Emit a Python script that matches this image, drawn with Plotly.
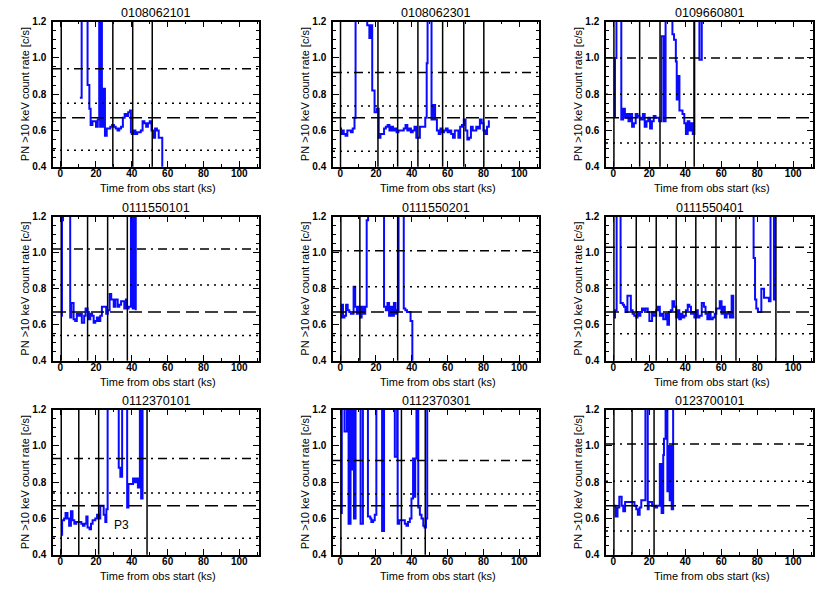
import plotly.graph_objects as go

# ---------------- data ----------------
obsids = ["0108062101", "0108062301", "0109660801",
          "0111550101", "0111550201", "0111550401",
          "0112370101", "0112370301", "0123700101"]

t1 = [11, 12, 15.3, 16.3, 17, 18, 19, 20, 21, 21.8, 22.3, 22.8, 23.3, 24, 25, 26, 27, 28, 29, 30,
      31, 32, 33, 34, 35, 36, 37, 38, 39, 39.5, 40, 41, 42, 43, 44, 45, 46, 47, 48, 49,
      50, 51, 52, 53, 54, 55, 57, 57.5]
r1 = [0.78, 1.5, 0.85, 0.72, 0.63, 0.65, 0.65, 0.62, 0.66, 1.5, 0.62, 1.5, 0.62, 0.83, 0.57, 0.61, 0.61, 0.62, 0.63, 0.62,
      0.61, 0.60, 0.61, 0.62, 0.67, 0.69, 0.68, 0.70, 0.71, 0.59, 0.58, 0.60, 0.58, 0.59, 0.59, 0.60, 0.65, 0.64, 0.62, 0.64,
      0.65, 0.60, 0.56, 0.61, 0.60, 0.56, 0.35, 0.35]

t2 = [0, 0.5, 1, 2, 3, 4, 5, 6, 7, 8, 8.6, 15.1, 16.3, 17.2, 17.9, 19.2, 20.5, 21.5, 22.5, 23.5,
      24.5, 25.5, 26.5, 27.5, 28.5, 29.5, 30.5, 31.5, 32.5, 33.5, 34.5, 35.5, 36.5, 37.5, 38.5, 39.5, 40.5, 41.5, 42.5, 43.5,
      44.5, 45.5, 46.5, 47.5, 48.3, 48.8, 51, 52, 53, 54, 55, 56, 57, 58, 59, 60, 61, 62, 63, 64,
      65, 66, 67, 68, 69, 70, 71, 72, 73, 74, 75, 76, 77, 78, 79, 80, 81, 82, 83, 83.5]
r2 = [0.61, 0.58, 0.60, 0.58, 0.57, 0.60, 0.60, 0.59, 0.61, 0.67, 1.5, 1.18, 1.11, 1.18, 0.82, 0.70, 0.72, 0.56, 0.58, 0.58,
      0.61, 0.62, 0.63, 0.60, 0.62, 0.60, 0.61, 0.59, 0.60, 0.60, 0.60, 0.61, 0.63, 0.60, 0.61, 0.59, 0.60, 0.62, 0.56, 0.56,
      0.62, 0.62, 0.62, 0.67, 0.97, 1.5, 0.66, 0.74, 0.66, 0.60, 0.58, 0.61, 0.59, 0.60, 0.61, 0.59, 0.60, 0.58, 0.56, 0.60,
      0.60, 0.56, 0.62, 0.63, 0.66, 0.60, 0.55, 0.56, 0.62, 0.60, 0.60, 0.62, 0.61, 0.66, 0.64, 0.60, 0.58, 0.62, 0.65, 0.65]

t3 = [0.5, 1, 1.8, 4.5, 5.5, 6.5, 7.5, 8.5, 9.5, 10.5, 11.5, 12.5, 13.5, 14.5, 15.5, 16.5, 17.5, 18.5, 19.5, 20.5,
      21.5, 22.5, 23.5, 24.5, 25.5, 26.9, 28.2, 29.1, 32.9, 33.8, 34.8, 35.3, 36.3, 36.8, 38.5, 39.5, 40.4, 41.4, 42.3, 43.2,
      44.2, 45.1, 47.9, 49.2, 49.6]
r3 = [0.68, 1.0, 1.5, 0.66, 0.72, 0.67, 0.69, 0.65, 0.69, 0.62, 0.64, 0.69, 0.68, 0.67, 0.66, 0.69, 0.62, 0.65, 0.67, 0.61,
      0.65, 0.68, 0.67, 0.67, 0.65, 1.12, 0.65, 1.5, 1.13, 1.10, 0.98, 0.77, 0.90, 0.71, 0.69, 0.64, 0.58, 0.65, 0.60, 0.64,
      0.58, 1.5, 0.99, 1.5, 1.5]

t4 = [0.6, 1.0, 1.6, 5.6, 6.2, 7.5, 8.4, 9.3, 10.3, 11.2, 12.1, 13.4, 14.2, 15.3, 16.0, 16.8, 17.8, 18.7, 19.6, 20.5,
      21.5, 22.4, 23.3, 24.8, 25.7, 26.6, 27.6, 28.5, 29.9, 30.8, 32.1, 33.0, 34.0, 34.9, 35.8, 36.7, 37.3, 38.2, 39.5, 40.5,
      41.4, 42.2]
r4 = [0.65, 1.18, 1.5, 0.64, 0.72, 0.63, 0.62, 0.66, 0.65, 0.66, 0.61, 0.65, 0.69, 0.67, 0.63, 0.66, 0.65, 0.61, 0.62, 0.64,
      0.62, 0.65, 0.70, 0.70, 0.66, 0.68, 0.77, 0.74, 0.70, 0.74, 0.70, 0.71, 0.73, 0.73, 0.69, 0.74, 0.69, 0.70, 1.5, 0.69,
      1.5, 0.68]

t5 = [0.4, 1.0, 1.6, 2.4, 3.3, 4.2, 5.1, 6.0, 7.5, 8.4, 9.3, 10.2, 11.1, 12.0, 13.0, 14.0, 14.8, 15.6, 24.5, 25.5,
      26.4, 27.3, 28.2, 29.1, 30.0, 30.9, 31.8, 32.6, 35.5, 36.4, 37.3, 38.3, 39.3, 40.3]
r5 = [0.64, 0.71, 0.64, 0.65, 0.71, 0.68, 0.67, 0.66, 0.81, 0.70, 0.66, 0.70, 0.64, 0.70, 0.66, 0.70, 1.18, 1.5, 0.70, 0.68,
      0.72, 0.65, 0.70, 0.65, 0.72, 0.66, 0.68, 1.5, 0.69, 0.68, 0.67, 0.67, 0.62, 0.35]

t6 = [0.4, 1.0, 1.9, 4.1, 5.3, 6.0, 6.8, 7.9, 9.8, 10.8, 11.7, 12.8, 13.5, 14.3, 15.1, 16.0, 17.0, 17.9, 19.2, 20.1,
      21.6, 22.6, 23.9, 24.8, 25.9, 26.9, 27.8, 29.1, 30.1, 31.0, 32.0, 32.9, 33.8, 35.0, 35.7, 36.7, 37.6, 38.5, 39.5, 40.4,
      41.4, 42.3, 43.2, 44.2, 45.1, 46.1, 47.0, 47.9, 49.2, 50.4, 51.3, 52.3, 53.2, 54.1, 55.3, 56.4, 57.3, 59.2, 60.2, 61.1,
      62.0, 63.0, 64.0, 64.8, 65.8, 66.7, 67.3, None,
      77.5, 78.0, 78.8, 79.5, 80.4, 82.3, 83.8, 86.5, 87.4, 89.3, 89.8, 90.3]
r6 = [0.64, 0.68, 1.5, 0.72, 0.71, 0.70, 0.67, 0.76, 0.68, 0.66, 0.65, 0.64, 0.67, 0.65, 0.67, 0.69, 0.68, 0.69, 0.67, 0.62,
      0.67, 0.65, 0.68, 0.70, 0.65, 0.66, 0.63, 0.66, 0.60, 0.67, 0.68, 0.73, 0.70, 0.64, 0.68, 0.63, 0.66, 0.64, 0.65, 0.68,
      0.71, 0.70, 0.66, 0.67, 0.64, 0.68, 0.64, 0.65, 0.72, 0.70, 0.66, 0.63, 0.67, 0.63, 0.64, 0.66, 0.69, 0.73, 0.66, 0.70,
      0.64, 0.66, 0.67, 0.64, 0.76, 0.64, 0.64, None,
      1.5, 0.97, 0.74, 0.69, 0.67, 0.80, 0.75, 0.73, 1.5, 0.74, 1.5, 1.5]

t7 = [0.6, 1.1, 2.2, 3.0, 4.1, 5.0, 6.0, 6.9, 7.9, 9.0, 10.5, 11.8, 12.7, 13.6, 14.6, 15.3, 16.4, 17.2, 18.1, 19.6,
      20.6, 21.5, 22.4, 24.3, 25.2, 25.8, 26.5, 32.7, 33.6, 34.6, 37.4, 38.1, 39.6, 40.7, 41.7, 42.6, 43.4, 44.5, 45.2, 46.0,
      46.5]
r7 = [0.51, 0.59, 0.60, 0.63, 0.60, 0.56, 0.64, 0.59, 0.57, 0.58, 0.58, 0.57, 0.56, 0.57, 0.61, 0.55, 0.54, 0.57, 0.59, 0.60,
      0.62, 0.60, 0.67, 0.62, 0.58, 0.65, 1.5, 0.88, 0.83, 1.5, 0.66, 0.79, 0.79, 0.82, 0.80, 0.82, 0.77, 1.5, 0.71, 1.5,
      1.5]

t8 = [0.4, 0.9, 2.4, 3.7, 4.7, 5.8, 6.5, 7.3, 7.7, 8.6, 11.4, 12.7, 15.5, 16.8, 17.4, 18.4, 19.3, 20.2, 23.4, 24.5,
      30.5, 31.8, 32.1, 33.0, 34.2, 36.1, 37.0, 37.9, 38.9, 39.8, 40.7, 41.3, 41.9, 42.6, 43.6, 44.5, 45.4, 46.4, 47.1, 47.9,
      48.6, 49.0]
r8 = [0.63, 1.5, 1.08, 1.5, 0.57, 1.5, 0.87, 1.5, 0.60, 1.5, 0.57, 1.5, 0.61, 0.60, 0.58, 0.59, 0.62, 1.5, 0.53, 1.5,
      0.94, 1.5, 0.57, 0.59, 0.59, 0.57, 0.56, 0.58, 0.60, 0.71, 0.93, 0.72, 0.93, 1.5, 0.66, 0.62, 0.60, 0.56, 0.55, 0.60,
      1.5, 1.5]

t9 = [0.4, 1.3, 2.4, 3.4, 4.7, 5.6, 6.6, 7.9, 9.4, 10.9, 11.8, 12.8, 13.7, 14.7, 15.6, 16.9, 17.9, 19.2, 19.7, 20.7,
      21.6, 22.6, 23.5, 24.4, 25.9, 26.9, 27.8, 28.2, 29.1, 30.1, 30.6, 31.4, 31.9, 32.5, 33.3]
r9 = [0.67, 0.61, 0.66, 0.72, 0.67, 0.64, 0.69, 0.69, 0.69, 0.69, 0.67, 0.65, 0.62, 0.66, 0.70, 0.70, 1.5, 0.65, 0.69, 0.69,
      0.67, 0.67, 0.66, 0.67, 0.90, 0.63, 0.95, 1.04, 1.5, 0.75, 1.00, 0.70, 1.00, 0.65, 1.5]

times = [t1, t2, t3, t4, t5, t6, t7, t8, t9]
rates = [r1, r2, r3, r4, r5, r6, r7, r8, r9]

# vertical markers (ks)
v1 = [0.6, 29.4, 40.5, 51.4]
v2 = [0.2, 21.1, 32.1, 43.4, 57.2, 69.0, 80.2]
v3 = [0.4, 14.7, 26.0, 45.0]
v4 = [0.6, 15.3, 26.5, 37.5]
v5 = [0.4, 11.0, 32.1]
v6 = [0.4, 12.8, 23.9, 35.0, 45.9, 57.1, 68.2, 90.4]
v7 = [0.6, 10.4, 21.5, 48.5]
v8 = [0.4, 34.2, 47.5]
v9 = [0.4, 10.5, 22.7]
vlines = [v1, v2, v3, v4, v5, v6, v7, v8, v9]

# horizontal reference levels (c/s)
dashdot_lvl = [0.94, 0.92, 1.00, 1.02, 1.01, 1.03, 0.93, 0.92, 1.01]
dotted_hi = [0.75, 0.735, 0.80, 0.82, 0.81, 0.82, 0.74, 0.735, 0.805]
dashed_lvl = [0.67, 0.67, 0.67, 0.67, 0.67, 0.67, 0.67, 0.67, 0.67]
dotted_lo = [0.49, 0.485, 0.53, 0.54, 0.54, 0.55, 0.49, 0.49, 0.53]

x_ticks = [0, 20, 40, 60, 80, 100]
y_ticks = [0.4, 0.6, 0.8, 1.0, 1.2]

# ---------------- layout ----------------
W, H = 830, 593
col_px = [(53, 259), (333, 539), (606, 813)]
row_px = [(16, 164), (215, 362), (412, 560)]
FONT = "Liberation Sans, Arial, sans-serif"

fig = go.Figure()
annotations = []
shapes = []

for i in range(9):
    r, c = divmod(i, 3)
    n = "" if i == 0 else str(i + 1)
    x0p, x1p = col_px[c]
    y0p, y1p = row_px[r]
    xd = [x0p / W, x1p / W]
    yd = [1 - y1p / H, 1 - y0p / H]
    common = dict(showline=True, linecolor="black", linewidth=1.5, mirror="allticks",
                  ticks="inside", ticklen=6, tickwidth=1, tickcolor="black",
                  showgrid=False, zeroline=False,
                  tickfont=dict(family=FONT, size=10, color="black", weight="bold"))
    fig.update_layout(**{
        f"xaxis{n}": dict(domain=xd, anchor=f"y{n}", range=[-4, 111], tickvals=x_ticks,
                          ticklabelstandoff=-3,
                          minor=dict(dtick=10, tick0=0, ticklen=3, ticks="inside", tickcolor="black"),
                          **common),
        f"yaxis{n}": dict(domain=yd, anchor=f"x{n}", range=[0.4, 1.2], tickvals=y_ticks,
                          tickformat=".1f", ticklabelstandoff=3,
                          minor=dict(dtick=0.05, tick0=0.4, ticklen=3, ticks="inside", tickcolor="black"),
                          **common),
    })
    fig.add_trace(go.Scatter(x=times[i], y=rates[i], mode="lines",
                             line=dict(shape="hv", color="#0a0aff", width=2),
                             connectgaps=False, showlegend=False, hoverinfo="skip",
                             xaxis=f"x{n}", yaxis=f"y{n}"))
    # horizontal levels
    for lvl, dash in [(dashdot_lvl[i], "9px,5px,2px,5px"), (dotted_hi[i], "2px,5px"),
                      (dashed_lvl[i], "13px,6px"), (dotted_lo[i], "2px,5px")]:
        shapes.append(dict(type="line", xref=f"x{n} domain", yref=f"y{n}", x0=0, x1=1, y0=lvl, y1=lvl,
                           line=dict(color="black", width=1.5, dash=dash)))
    for v in vlines[i]:
        shapes.append(dict(type="line", xref=f"x{n}", yref=f"y{n} domain", x0=v, x1=v, y0=0, y1=1,
                           line=dict(color="black", width=1.5)))
    cx = (x0p + x1p) / 2
    # title
    annotations.append(dict(text=obsids[i], x=cx / W, y=1 - (y0p - 9) / H, xref="paper", yref="paper",
                            showarrow=False, xanchor="center", yanchor="middle",
                            font=dict(family=FONT, size=12.5, color="black")))
    # x title
    annotations.append(dict(text="Time from obs start (ks)", x=(cx + 2) / W, y=1 - (y1p + 22) / H,
                            xref="paper", yref="paper", showarrow=False, xanchor="center", yanchor="middle",
                            font=dict(family=FONT, size=11, color="black")))
    # y title
    annotations.append(dict(text="PN >10 keV count rate [c/s]", x=(x0p - 28) / W, y=1 - ((y0p + y1p) / 2) / H,
                            xref="paper", yref="paper", showarrow=False, textangle=-90,
                            xanchor="center", yanchor="middle",
                            font=dict(family=FONT, size=11, color="black")))

annotations.append(dict(text="P3", x=34, y=0.565, xref="x7", yref="y7", showarrow=False,
                        font=dict(family=FONT, size=12, color="black")))

fig.update_layout(width=W, height=H, margin=dict(l=0, r=0, t=0, b=0),
                  paper_bgcolor="white", plot_bgcolor="white",
                  shapes=shapes, annotations=annotations)

fig.write_html("out.html", config={"displayModeBar": False},
               post_script="document.body.style.margin='0';document.body.style.overflow='hidden';")
